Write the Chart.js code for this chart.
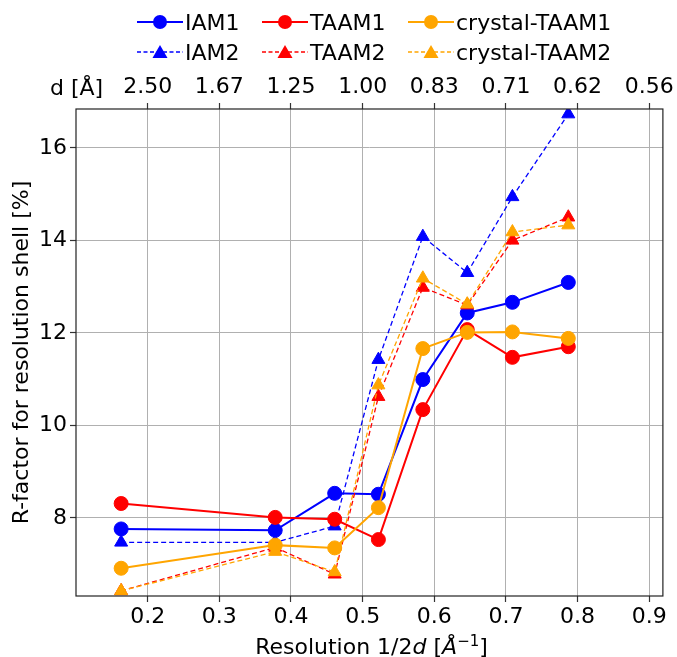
<!DOCTYPE html>
<html>
<head>
<meta charset="utf-8">
<script src="https://cdn.jsdelivr.net/npm/chart.js@4.4.1/dist/chart.umd.min.js"></script>
<style>
  body { margin: 0; background: #fff; }
  #wrap { position: relative; width: 677px; height: 657px; font-family: "DejaVu Sans", sans-serif; color: #000; }
  #chartLegend { position: absolute; left: 137px; top: 7px; display: grid; grid-template-columns: 125px 146px auto; grid-auto-rows: 30px; font-size: 22px; }
  #chartLegend span { display: flex; align-items: center; white-space: nowrap; }
  #chartLegend svg { margin-right: 2px; }
  .txt { position: absolute; font-size: 22px; line-height: 26px; white-space: nowrap; }
</style>
</head>
<body>
<div id="wrap">
  <canvas id="myLineChart" width="677" height="657"></canvas>
  <div id="chartLegend"></div>
  <div class="txt" style="left:50px; top:75px;">d [Å]</div>
  <div class="txt" style="left:76px; width:591px; top:634px; text-align:center;">Resolution 1/2<i>d</i> [<i>Å</i><sup style="font-size:15px; line-height:0;">−1</sup>]</div>
</div>
<script>
// Datos
var resolucion = [0.163, 0.378, 0.461, 0.522, 0.584, 0.646, 0.709, 0.787];
var iam1 = [7.76, 7.73, 8.53, 8.51, 10.99, 12.43, 12.66, 13.09];
var iam2 = [7.47, 7.47, 7.82, 11.42, 14.08, 13.30, 14.94, 16.73];
var taam1 = [8.31, 8.01, 7.97, 7.53, 10.34, 12.07, 11.47, 11.70];
var taam2 = [6.42, 7.36, 6.78, 10.62, 12.98, 12.60, 14.00, 14.50];
var crystalTaam1 = [6.91, 7.41, 7.35, 8.22, 11.66, 12.01, 12.02, 11.88];
var crystalTaam2 = [6.42, 7.27, 6.83, 10.87, 13.18, 12.62, 14.18, 14.33];

// Marcas de los ejes
var xTicks = [0.2, 0.3, 0.4, 0.5, 0.6, 0.7, 0.8, 0.9];
var xTickLabels = ['0.2', '0.3', '0.4', '0.5', '0.6', '0.7', '0.8', '0.9'];
var dTickLabels = ['2.50', '1.67', '1.25', '1.00', '0.83', '0.71', '0.62', '0.56'];
var yTicks = [8, 10, 12, 14, 16];

var series = [
  { label: 'IAM1', data: iam1, color: '#0000ff', dashed: false },
  { label: 'IAM2', data: iam2, color: '#0000ff', dashed: true },
  { label: 'TAAM1', data: taam1, color: '#ff0000', dashed: false },
  { label: 'TAAM2', data: taam2, color: '#ff0000', dashed: true },
  { label: 'crystal-TAAM1', data: crystalTaam1, color: '#ffa500', dashed: false },
  { label: 'crystal-TAAM2', data: crystalTaam2, color: '#ffa500', dashed: true }
];

// Leyenda en HTML (3 columnas, como en matplotlib)
var ordenLeyenda = [0, 2, 4, 1, 3, 5];
var legendHTML = ordenLeyenda.map(function(i) {
  var s = series[i];
  var marker = s.dashed
    ? '<polygon points="23,3 30.5,16 15.5,16" fill="' + s.color + '"/>'
    : '<circle cx="23" cy="10" r="7" fill="' + s.color + '"/>';
  var line = '<line x1="0" y1="10" x2="46" y2="10" stroke="' + s.color + '" stroke-width="' + (s.dashed ? 1.3 : 2) + '"' + (s.dashed ? ' stroke-dasharray="4,2.5"' : '') + '/>';
  return '<span><svg width="46" height="20">' + line + marker + '</svg>' + s.label + '</span>';
}).join('');
document.getElementById('chartLegend').innerHTML = legendHTML;

var datasets = series.map(function(s, i) {
  return {
    label: s.label,
    data: resolucion.map(function(x, j) { return { x: x, y: s.data[j] }; }),
    borderColor: s.color,
    backgroundColor: s.color,
    borderWidth: s.dashed ? 1.3 : 2,
    borderDash: s.dashed ? [5, 3] : [],
    pointStyle: s.dashed ? 'triangle' : 'circle',
    pointRadius: s.dashed ? 7.5 : 7,
    pointBorderWidth: 1,
    pointBorderColor: s.color,
    pointBackgroundColor: s.color,
    tension: 0,
    order: series.length - i  // el último se dibuja encima
  };
});

function setTicks(values) {
  return function(scale) {
    scale.ticks = values.map(function(v) { return { value: v }; });
  };
}

// Marco alrededor del área del gráfico
var marco = {
  id: 'marco',
  afterDraw: function(chart) {
    var a = chart.chartArea, c = chart.ctx;
    c.save();
    c.strokeStyle = '#222';
    c.lineWidth = 1.2;
    c.strokeRect(a.left, a.top, a.right - a.left, a.bottom - a.top);
    c.restore();
  }
};

Chart.defaults.font.family = '"DejaVu Sans", sans-serif';
Chart.defaults.font.size = 22;
Chart.defaults.color = '#000';

var ctx = document.getElementById('myLineChart');
var myLineChart = new Chart(ctx, {
  type: 'line',
  data: { datasets: datasets },
  options: {
    responsive: false,
    animation: false,
    devicePixelRatio: 1,
    layout: { padding: { top: 0, right: 10, bottom: 0, left: 0 } },
    plugins: {
      legend: { display: false },
      tooltip: { enabled: false }
    },
    scales: {
      x: {
        type: 'linear',
        position: 'bottom',
        min: 0.1,
        max: 0.919,
        afterBuildTicks: setTicks(xTicks),
        afterFit: function(s) { s.height = 61; },
        ticks: {
          padding: 2,
          maxRotation: 0,
          callback: function(v, i) { return xTickLabels[i]; }
        },
        grid: { color: '#b0b0b0', lineWidth: 1, tickColor: '#333', tickLength: 6, tickWidth: 1.2 },
        border: { display: false }
      },
      x2: {
        type: 'linear',
        position: 'top',
        min: 0.1,
        max: 0.919,
        afterBuildTicks: setTicks(xTicks),
        afterFit: function(s) { s.height = 109; },
        ticks: {
          padding: 3,
          maxRotation: 0,
          callback: function(v, i) { return dTickLabels[i]; }
        },
        grid: { drawOnChartArea: false, tickColor: '#333', tickLength: 6, tickWidth: 1.2 },
        border: { display: false }
      },
      y: {
        type: 'linear',
        min: 6.31,
        max: 16.84,
        afterBuildTicks: setTicks(yTicks),
        afterFit: function(s) { s.width = 76; },
        ticks: {
          padding: 3,
          callback: function(v) { return v; }
        },
        title: {
          display: true,
          text: 'R-factor for resolution shell [%]',
          padding: { top: 9, bottom: 0 }
        },
        grid: { color: '#b0b0b0', lineWidth: 1, tickColor: '#333', tickLength: 6, tickWidth: 1.2 },
        border: { display: false }
      }
    }
  },
  plugins: [marco]
});
</script>
</body>
</html>
